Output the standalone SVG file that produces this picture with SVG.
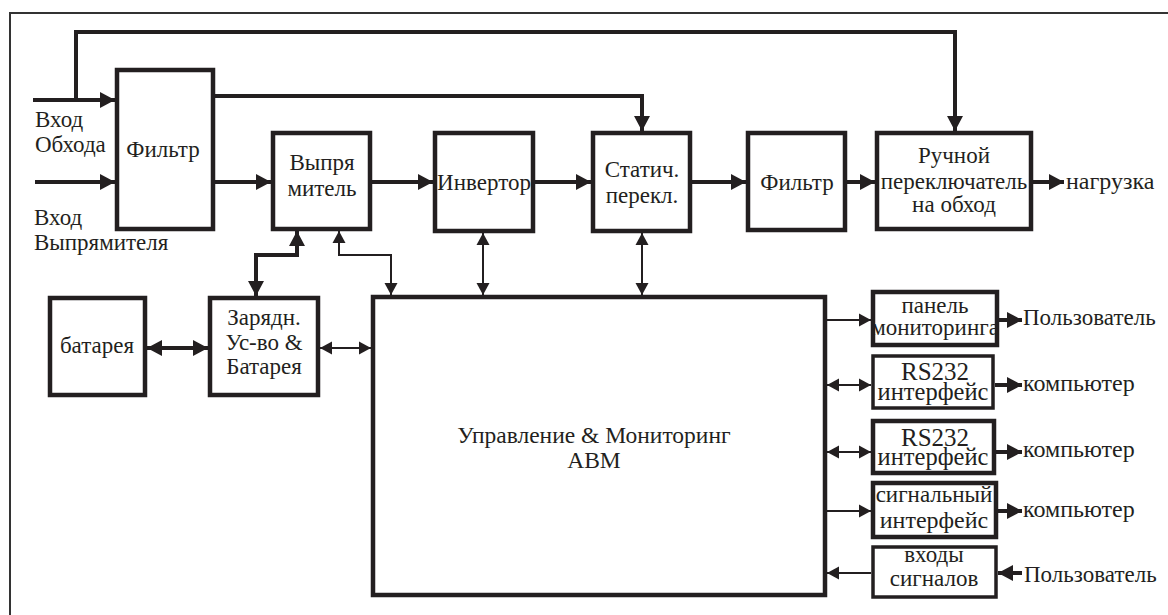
<svg xmlns="http://www.w3.org/2000/svg" width="1168" height="615" viewBox="0 0 1168 615" font-family="Liberation Serif, serif">
<style>
.box{fill:#fff;stroke:#231f20;stroke-width:4.5}
.sbox{fill:#fff;stroke:#231f20;stroke-width:3.5}
.w{fill:none;stroke:#231f20;stroke-width:4}
.n{fill:none;stroke:#231f20;stroke-width:2}
.t{font-family:"Liberation Serif",serif;font-size:23px;fill:#231f20}
.c{text-anchor:middle}
</style>
<defs>
<marker id="A" markerUnits="userSpaceOnUse" markerWidth="16" markerHeight="18" viewBox="0 0 16 18" refX="15" refY="9" orient="auto-start-reverse"><path d="M0,1 L15,9 L0,17 Z" fill="#231f20"/></marker>
<marker id="a" markerUnits="userSpaceOnUse" markerWidth="13" markerHeight="15" viewBox="0 0 13 15" refX="12" refY="7.5" orient="auto-start-reverse"><path d="M0,1 L12,7.5 L0,14 Z" fill="#231f20"/></marker>
</defs>
<rect width="1168" height="615" fill="#fff"/>
<rect x="10" y="13" width="1180" height="620" fill="none" stroke="#333" stroke-width="2"/>

<g id="connectors">
<polyline class="w" points="76,100 76,32 955,32 955,131" marker-end="url(#A)"/>
<line class="w" x1="33" y1="100" x2="115" y2="100" marker-end="url(#A)"/>
<polyline class="w" stroke-width="3.5" points="213,96 642,96 642,131" marker-end="url(#A)"/>
<line class="w" x1="35" y1="182" x2="115" y2="182" marker-end="url(#A)"/>
<line class="w" x1="213" y1="182" x2="271" y2="182" marker-end="url(#A)"/>
<line class="w" x1="370" y1="182" x2="433" y2="182" marker-end="url(#A)"/>
<line class="w" x1="533" y1="182" x2="591" y2="182" marker-end="url(#A)"/>
<line class="w" x1="690" y1="182" x2="746" y2="182" marker-end="url(#A)"/>
<line class="w" x1="845" y1="182" x2="875" y2="182" marker-end="url(#A)"/>
<line class="w" x1="1031" y1="182" x2="1064" y2="182" marker-end="url(#A)"/>
<line class="w" x1="147" y1="348" x2="208" y2="348" marker-start="url(#A)" marker-end="url(#A)"/>
<polyline class="w" points="256,296 256,255 297,255 297,231" marker-start="url(#A)" marker-end="url(#A)"/>
<polyline class="n" points="339,231 339,255 391,255 391,295" marker-start="url(#a)" marker-end="url(#a)"/>
<line class="n" x1="320" y1="348" x2="371" y2="348" marker-start="url(#a)" marker-end="url(#a)"/>
<line class="n" x1="483" y1="233" x2="483" y2="295" marker-start="url(#a)" marker-end="url(#a)"/>
<line class="n" stroke-width="2.5" x1="642" y1="233" x2="642" y2="295" marker-start="url(#a)" marker-end="url(#a)"/>
<line class="n" x1="827" y1="320" x2="871" y2="320" marker-end="url(#a)"/>
<line class="n" x1="827" y1="385" x2="871" y2="385" marker-start="url(#a)" marker-end="url(#a)"/>
<line class="n" x1="827" y1="452" x2="871" y2="452" marker-start="url(#a)" marker-end="url(#a)"/>
<line class="n" x1="825" y1="511" x2="871" y2="511" marker-end="url(#a)"/>
<line class="n" x1="871" y1="573" x2="827" y2="573" marker-end="url(#a)"/>
<line class="w" x1="999" y1="320" x2="1022" y2="320" marker-end="url(#A)"/>
<line class="w" x1="995" y1="385" x2="1022" y2="385" marker-end="url(#A)"/>
<line class="w" x1="995" y1="452" x2="1022" y2="452" marker-end="url(#A)"/>
<line class="w" x1="998" y1="511" x2="1022" y2="511" marker-end="url(#A)"/>
<line class="w" x1="1022" y1="573" x2="998" y2="573" marker-end="url(#A)"/>
</g>

<g id="label-bypass"><text class="t" x="35" y="127">Вход</text><text class="t" x="35" y="152">Обхода</text></g>
<g id="label-rect"><text class="t" x="34" y="225">Вход</text><text class="t" x="34" y="250">Выпрямителя</text></g>

<g id="filter1"><rect class="box" x="117" y="70" width="96" height="159"/><text class="t c" x="163" y="157">Фильтр</text></g>
<g id="rectifier"><rect class="box" x="273" y="133" width="97" height="96"/><text class="t c" x="322" y="170">Выпря</text><text class="t c" x="322" y="196">митель</text></g>
<g id="inverter"><rect class="box" x="435" y="133" width="98" height="98"/><text class="t c" x="484" y="190">Инвертор</text></g>
<g id="static"><rect class="box" x="593" y="133" width="97" height="98"/><text class="t c" x="642" y="177">Статич.</text><text class="t c" x="642" y="203">перекл.</text></g>
<g id="filter2"><rect class="box" x="748" y="133" width="97" height="97"/><text class="t c" x="797" y="190">Фильтр</text></g>
<g id="manual"><rect class="box" x="877" y="133" width="154" height="96"/><text class="t c" x="954" y="163">Ручной</text><text class="t c" x="954" y="189">переключатель</text><text class="t c" x="954" y="212">на обход</text></g>
<g id="load"><text class="t" x="1066" y="189" style="font-size:24px">нагрузка</text></g>

<g id="battery"><rect class="box" x="50" y="298" width="95" height="97"/><text class="t c" x="97" y="353">батарея</text></g>
<g id="charger"><rect class="box" x="210" y="298" width="108" height="97"/><text class="t c" x="264" y="325">Зарядн.</text><text class="t c" x="264" y="350">Ус-во &amp;</text><text class="t c" x="264" y="374">Батарея</text></g>
<g id="control"><rect class="box" x="373" y="297" width="452" height="298"/><text class="t c" x="594" y="443" style="font-size:23.5px">Управление &amp; Мониторинг</text><text class="t c" x="594" y="468" style="font-size:23.5px">АВМ</text></g>

<g id="panel"><rect class="box" x="873" y="292" width="124" height="53"/><text class="t c" x="935" y="313">панель</text><text class="t c" x="935" y="335">мониторинга</text></g>
<g id="rs1"><rect class="sbox" x="873" y="356" width="120" height="52"/><text class="t c" x="935" y="380" style="font-size:25px">RS232</text><text class="t c" x="933" y="400" style="font-size:24.5px">интерфейс</text></g>
<g id="rs2"><rect class="box" x="873" y="421" width="121" height="52"/><text class="t c" x="935" y="446" style="font-size:25px">RS232</text><text class="t c" x="933" y="465" style="font-size:24.5px">интерфейс</text></g>
<g id="sig"><rect class="box" x="873" y="483" width="123" height="54"/><text class="t c" x="934" y="502">сигнальный</text><text class="t c" x="934" y="528" style="font-size:24px">интерфейс</text></g>
<g id="inputs"><rect class="sbox" x="873" y="547" width="123" height="50"/><text class="t c" x="934" y="562">входы</text><text class="t c" x="934" y="586">сигналов</text></g>

<g id="outs">
<text class="t" x="1023" y="325">Пользователь</text>
<text class="t" x="1023" y="391" style="font-size:24px">компьютер</text>
<text class="t" x="1023" y="457" style="font-size:24px">компьютер</text>
<text class="t" x="1023" y="517" style="font-size:24px">компьютер</text>
<text class="t" x="1024" y="582">Пользователь</text>
</g>
</svg>
